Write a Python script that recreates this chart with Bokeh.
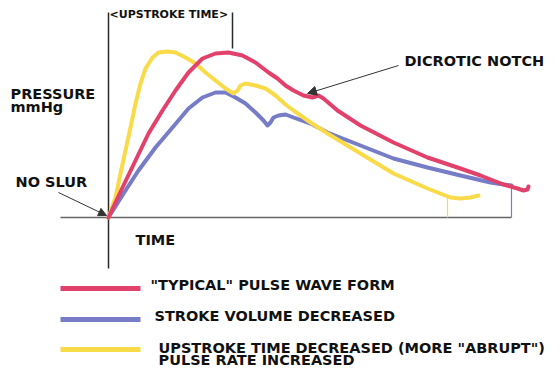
from bokeh.plotting import figure
from bokeh.models import Range1d, Arrow, NormalHead
from bokeh.core.properties import value
from bokeh.embed import file_html
from bokeh.resources import INLINE

# ---- data (time / pressure, arbitrary units) ----
typical_t = [0, 14, 27, 40, 54, 67, 80, 94, 107, 120, 134, 147, 160, 169, 177, 185, 195, 204, 210, 215,
             229, 252, 285, 319, 352, 372, 395, 409, 415, 419, 420]
typical_p = [0, 30, 57, 84, 107, 127, 145, 159, 164, 165, 162, 155, 145, 139, 132, 127, 122, 120, 122, 119,
             107, 92, 75, 60, 49, 42, 33, 29, 27, 28, 31]

stroke_t = [0, 17, 30, 47, 64, 80, 94, 107, 117, 127, 137, 147, 155, 159, 162, 165, 170, 177, 185,
            202, 219, 252, 285, 319, 352, 382, 395, 403]
stroke_p = [0, 27, 47, 70, 90, 109, 120, 125, 125, 120, 114, 105, 97, 92, 95, 100, 102, 103, 100,
            94, 85, 72, 59, 50, 42, 35, 33, 32]

upstroke_t = [0, 7, 12, 17, 22, 27, 32, 37, 44, 50, 59, 67, 77, 87, 97, 107, 117, 125, 129, 132,
              137, 147, 157, 167, 177, 185, 202, 219, 252, 285, 319, 342, 352, 362, 370]
upstroke_p = [0, 20, 44, 67, 90, 114, 134, 149, 160, 165, 166, 165, 160, 154, 145, 137, 129, 124, 127, 132,
              134, 132, 129, 122, 113, 107, 95, 84, 64, 44, 29, 20, 19, 20, 22]

upstroke_time_end = 124      # end of the typical upstroke (bracket)
yellow_cycle_end = 339       # thin marker where fast-rate cycle ends
dicrotic_notch = (197, 123)  # notch on typical wave

legend_labels = ['"TYPICAL" PULSE WAVE FORM',
                 'STROKE VOLUME DECREASED',
                 'UPSTROKE TIME DECREASED (MORE "ABRUPT")\nPULSE RATE INCREASED']

RED = "#E2416B"
BLUE = "#767CC6"
YEL = "#F9DB4A"
FONT = value("DejaVu Sans")

p = figure(width=560, height=377, x_range=Range1d(-108, 452), y_range=Range1d(-160, 217),
           output_backend="svg", toolbar_location=None,
           x_axis_location=None, y_axis_location=None, min_border=0,
           outline_line_color=None, background_fill_color="white", border_fill_color="white")
p.grid.visible = False

# axes / structural lines
p.line([0, 0], [-51, 205], line_color="#2a2a2a", line_width=1.5)
p.line([-48, stroke_t[-1]], [0, 0], line_color="#666666", line_width=1.5)
p.line([upstroke_time_end, upstroke_time_end], [169, 205], line_color="#2a2a2a", line_width=1.5)
p.line([stroke_t[-1], stroke_t[-1]], [0, stroke_p[-1]], line_color=BLUE, line_width=1.2)
p.line([yellow_cycle_end, yellow_cycle_end], [0, 20], line_color=YEL, line_width=1.2)

# curves
p.line(stroke_t, stroke_p, line_color=BLUE, line_width=4, line_join="round", line_cap="round")
p.line(upstroke_t, upstroke_p, line_color=YEL, line_width=4, line_join="round", line_cap="round")
p.line(typical_t, typical_p, line_color=RED, line_width=4, line_join="round", line_cap="round")

# arrows
p.add_layout(Arrow(end=NormalHead(size=8, fill_color="#333333", line_color="#333333"),
                   x_start=-50, y_start=25, x_end=-2, y_end=2, line_color="#333333", line_width=1))
p.add_layout(Arrow(end=NormalHead(size=9, fill_color="#333333", line_color="#333333"),
                   x_start=290, y_start=152, x_end=dicrotic_notch[0] + 2, y_end=dicrotic_notch[1] + 1,
                   line_color="#333333", line_width=1))

# texts
def txt(x, y, s, size="14.5px"):
    p.text(x=[x], y=[y], text=[s], text_font=FONT, text_font_style="bold",
           text_font_size=size, text_baseline="middle", text_align="left", text_color="#111111")

txt(1, 203, "<UPSTROKE TIME>", "11px")
txt(-98, 124, "PRESSURE")
txt(-98, 111, "mmHg")
txt(-93, 36, "NO SLUR")
txt(296, 157, "DICROTIC NOTCH")
txt(27, -22, "TIME")

# legend
leg_y = [-71, -102, -132]
leg_col = [RED, BLUE, YEL]
leg_tx = [42, 46, 50]
for yy, c, tx, lab in zip(leg_y, leg_col, leg_tx, legend_labels):
    p.line([-48, 32], [yy, yy], line_color=c, line_width=5)
    lines = lab.split("\n")
    if len(lines) == 1:
        txt(tx, yy + 4, lines[0])
    else:
        txt(tx, yy + 2, lines[0])
        txt(tx, yy - 10, lines[1])

open("out.html", "w").write(file_html(p, INLINE))
